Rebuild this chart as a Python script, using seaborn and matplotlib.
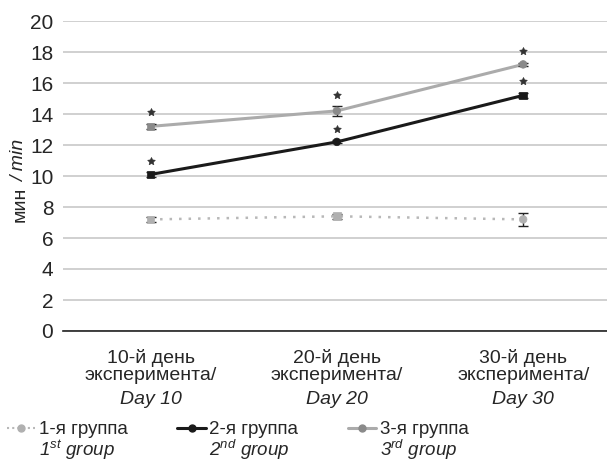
import matplotlib
matplotlib.use("Agg")
import matplotlib.pyplot as plt
import seaborn as sns
import pandas as pd
from matplotlib.lines import Line2D

days = ["10-й день\nэксперимента/", "20-й день\nэксперимента/", "30-й день\nэксперимента/"]
days_en = ["Day 10", "Day 20", "Day 30"]
groups = ["1-я группа", "2-я группа", "3-я группа"]
groups_en = [r"$1^{st}$ group", r"$2^{nd}$ group", r"$3^{rd}$ group"]

g1 = [7.2, 7.4, 7.2]
g2 = [10.1, 12.2, 15.2]
g3 = [13.2, 14.2, 17.2]
g1_err = [0.15, 0.15, 0.4]
g2_err = [0.15, 0.1, 0.15]
g3_err = [0.15, 0.3, 0.1]
g1_marks = ["s", "s", "o"]
g2_marks = ["s", "o", "s"]
g3_marks = ["s", "o", "o"]
g2_star = [True, True, True]
g3_star = [True, True, True]

sns.set_style("white")
plt.rcParams["font.family"] = ["Liberation Sans", "DejaVu Sans"]
plt.rcParams["mathtext.fontset"] = "custom"
plt.rcParams["mathtext.rm"] = "Liberation Sans:italic"
plt.rcParams["mathtext.it"] = "Liberation Sans:italic"

FS = 14
LFS = 13.5

rows = []
for name, vals, errs, marks in [(groups[0], g1, g1_err, g1_marks),
                                (groups[1], g2, g2_err, g2_marks),
                                (groups[2], g3, g3_err, g3_marks)]:
    for i, (v, e, m) in enumerate(zip(vals, errs, marks)):
        rows.append({"day": i, "value": v, "err": e, "group": name, "mark": m})
df = pd.DataFrame(rows)

colors = {groups[0]: "#b8b8b8", groups[1]: "#1a1a1a", groups[2]: "#ababab"}
mcolors = {groups[0]: "#b0b0b0", groups[1]: "#1a1a1a", groups[2]: "#8a8a8a"}

fig = plt.figure(figsize=(6.07, 4.65), dpi=100)
ax = fig.add_axes([63 / 607, 1 - 331 / 465, 544 / 607, 310 / 465])

for g in groups:
    sub = df[df["group"] == g]
    sns.lineplot(data=sub, x="day", y="value", ax=ax, color=colors[g],
                 linewidth=2.2 if g != groups[0] else 1.8,
                 linestyle=(0, (1, 2.8)) if g == groups[0] else "-",
                 legend=False)
    ax.errorbar(sub["day"], sub["value"], yerr=sub["err"], fmt="none",
                ecolor="#222222", elinewidth=1, capsize=3.5, capthick=1, zorder=4)
    sns.scatterplot(data=sub, x="day", y="value", style="mark",
                    markers={"s": "s", "o": "o"}, color=mcolors[g], s=30,
                    edgecolor=mcolors[g], linewidth=0.5, ax=ax, legend=False, zorder=5)

# significance marks
for vals, errs, stars in [(g2, g2_err, g2_star), (g3, g3_err, g3_star)]:
    for i, (v, e, s) in enumerate(zip(vals, errs, stars)):
        if s:
            ax.scatter(i, v + e + 0.75, marker=(5, 1, 0), s=34, color="#333333",
                       linewidths=0.4, zorder=6)

ax.set_xlim(-0.47, 2.45)
ax.set_ylim(0, 20)
ax.set_yticks(range(0, 21, 2))
ax.tick_params(axis="y", labelsize=15, length=5, width=0.8, color="#555555", pad=2)
ax.set_xticks([0, 1, 2])
ax.set_xticklabels(days, fontsize=FS, linespacing=1.0)
ax.tick_params(axis="x", length=0, pad=13)
for i, d in enumerate(days_en):
    ax.annotate(d, (i, 0), xycoords=ax.get_xaxis_transform(), xytext=(0, -69 * 0.72),
                textcoords="offset points", ha="center", va="center", fontsize=FS,
                style="italic")
ax.set_xlabel("")
ax.set_ylabel("")
ax.grid(axis="y", color="#c8c8c8", linewidth=1.2)
for sp in ["top", "right", "left"]:
    ax.spines[sp].set_visible(False)
ax.spines["bottom"].set_color("#222222")
ax.spines["bottom"].set_linewidth(1.2)
ax.set_axisbelow(True)

fig.text(20 / 607, 1 - 222 / 465, "мин", rotation=90, ha="center", va="bottom", fontsize=FS)
fig.text(20 / 607, 1 - 182 / 465, "/ min", rotation=90, ha="center", va="bottom",
         fontsize=FS, style="italic")

handles = [
    Line2D([], [], color=colors[groups[0]], linestyle=(0, (1, 1.5)), linewidth=1.5,
           marker="o", markersize=5, markerfacecolor=mcolors[groups[0]], markeredgecolor=mcolors[groups[0]]),
    Line2D([], [], color=colors[groups[1]], linewidth=2.2, marker="o", markersize=5),
    Line2D([], [], color=colors[groups[2]], linewidth=2.2, marker="o", markersize=5,
           markerfacecolor=mcolors[groups[2]], markeredgecolor=mcolors[groups[2]]),
]
leg = fig.legend(handles, groups, loc="upper left", bbox_to_anchor=(7 / 607, 1 - 421 / 465),
                 ncol=3, frameon=False, fontsize=LFS, handlelength=1.5,
                 handletextpad=0.2, columnspacing=2.65, borderaxespad=0, borderpad=0)
fig.canvas.draw()
for t, lab in zip(leg.get_texts(), groups_en):
    bb = t.get_window_extent()
    fig.text(bb.x0 / fig.bbox.width, bb.y0 / fig.bbox.height, lab,
             ha="left", va="top", fontsize=LFS, style="italic")

fig.savefig("out.png", dpi=100)
